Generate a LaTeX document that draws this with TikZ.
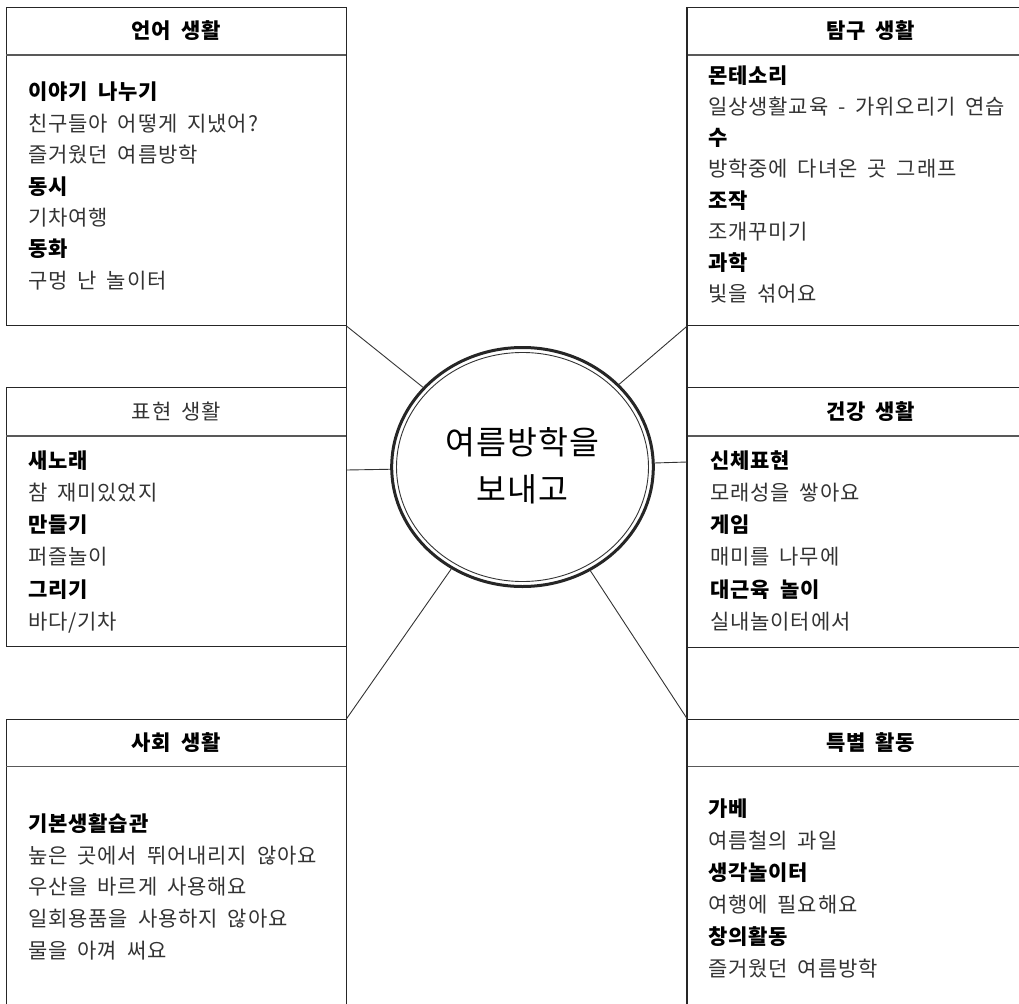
\documentclass[tikz,border=0pt]{standalone}
\usepackage{fontspec}
\setmainfont{Noto Sans CJK KR}[WordSpace=1.8, LetterSpace=4]
\usetikzlibrary{shapes.geometric}

\newcommand{\topic}[1]{{\bfseries\color{black}#1}}

\tikzset{
  frame/.style={draw=black!85, line width=1.2pt},
  area/.style={frame, rectangle, anchor=north west, inner sep=0pt},
  headline/.style={draw=black!65, line width=1.4pt},
  head/.style={font=\fontsize{21}{24}\selectfont\bfseries, text=black},
  items/.style={anchor=base west, align=left, inner sep=0pt, text=black!80,
    font=\fontsize{21}{#1}\selectfont},
  link/.style={draw=black!80, line width=0.9pt}
}

\begin{document}
\begin{tikzpicture}[x=1pt,y=-1pt]
\useasboundingbox (0,0) rectangle (1019,1003);

% Box 1 (top left)
\node[area,
    minimum width=339.5pt,
    minimum height=318pt] (lang) at (6,7){};
\draw[headline] ([yshift=-48pt]lang.north west) -- ([yshift=-48pt]lang.north east);
\node[head] (lang-title) at ([yshift=-24pt]lang.north) {언어 생활};
\node[items=31.4] (lang-list) at (28,288.3)
  {\topic{이야기 나누기}\\친구들아 어떻게 지냈어?\\즐거웠던 여름방학\\\topic{동시}\\기차여행\\\topic{동화}\\구멍 난 놀이터};

% Box 2 (top right)
\node[area,
    minimum width=366pt,
    minimum height=318pt] (explore) at (687,7){};
\draw[headline] ([yshift=-48pt]explore.north west) -- ([yshift=-48pt]explore.north east);
\node[head] (explore-title) at ([yshift=-24pt]explore.north) {탐구 생활};
\node[items=31.1] (explore-list) at (708,301.3)
  {\topic{몬테소리}\\일상생활교육 - 가위오리기 연습\\\topic{수}\\방학중에 다녀온 곳 그래프\\\topic{조작}\\조개꾸미기\\\topic{과학}\\빛을 섞어요};

% Box 3 (middle left)
\node[area,
    minimum width=339.5pt,
    minimum height=259pt] (express) at (6,387){};
\draw[headline] ([yshift=-49pt]express.north west) -- ([yshift=-49pt]express.north east);
\node[head, font=\fontsize{21}{24}\selectfont, text=black!80] (express-title) at ([yshift=-25pt]express.north) {표현 생활};
\node[items=32.2] (express-list) at (28,629.3)
  {\topic{새노래}\\참 재미있었지\\\topic{만들기}\\퍼즐놀이\\\topic{그리기}\\바다/기차};

% Box 4 (middle right)
\node[area,
    minimum width=366pt,
    minimum height=260pt] (health) at (687,387){};
\draw[headline] ([yshift=-49pt]health.north west) -- ([yshift=-49pt]health.north east);
\node[head] (health-title) at ([yshift=-25pt]health.north) {건강 생활};
\node[items=32.2] (health-list) at (710,629.3)
  {\topic{신체표현}\\모래성을 쌓아요\\\topic{게임}\\매미를 나무에\\\topic{대근육 놀이}\\실내놀이터에서};

% Box 5 (bottom left)
\node[area,
    minimum width=339.5pt,
    minimum height=320pt] (social) at (6,718.5){};
\draw[headline] ([yshift=-48pt]social.north west) -- ([yshift=-48pt]social.north east);
\node[head] (social-title) at ([yshift=-24pt]social.north) {사회 생활};
\node[items=31.75] (social-list) at (28,958.3)
  {\topic{기본생활습관}\\높은 곳에서 뛰어내리지 않아요\\우산을 바르게 사용해요\\일회용품을 사용하지 않아요\\물을 아껴 써요};

% Box 6 (bottom right)
\node[area,
    minimum width=366pt,
    minimum height=320pt] (special) at (687,718.5){};
\draw[headline] ([yshift=-48pt]special.north west) -- ([yshift=-48pt]special.north east);
\node[head] (special-title) at ([yshift=-24pt]special.north) {특별 활동};
\node[items=32] (special-list) at (708,976.3)
  {\topic{가베}\\여름철의 과일\\\topic{생각놀이터}\\여행에 필요해요\\\topic{창의활동}\\즐거웠던 여름방학};

% Centre column
\draw[frame] (lang.north east) -- (social.south east);
\draw[frame] (explore.north west) -- (special.south west);

% Centre ellipse
\node[draw=black!85,
    ellipse,
    line width=3pt,
    inner sep=0pt,
    minimum width=261.6pt,
    minimum height=239pt] (centre) at (522.5,467){};
\draw[line width=0.9pt, black!80] (centre.center) ellipse [x radius=126pt, y radius=114.5pt];
\node[align=center,
    font=\fontsize{32.5}{47}\selectfont] (centre-text) at ([yshift=1pt]centre.center){여름방학을\\보내고};

% Links from the boxes
\draw[link] (lang.south east) -- (centre);
\draw[link] (explore.south west) -- (centre);
\draw[link] ([yshift=-3pt]centre.center -| express.east) -- (centre);
\draw[link] ([yshift=5pt]centre.center -| health.west) -- (centre);
\draw[link] (social.north east) -- (centre);
\draw[link] (special.north west) -- (centre);

\end{tikzpicture}
\end{document}
